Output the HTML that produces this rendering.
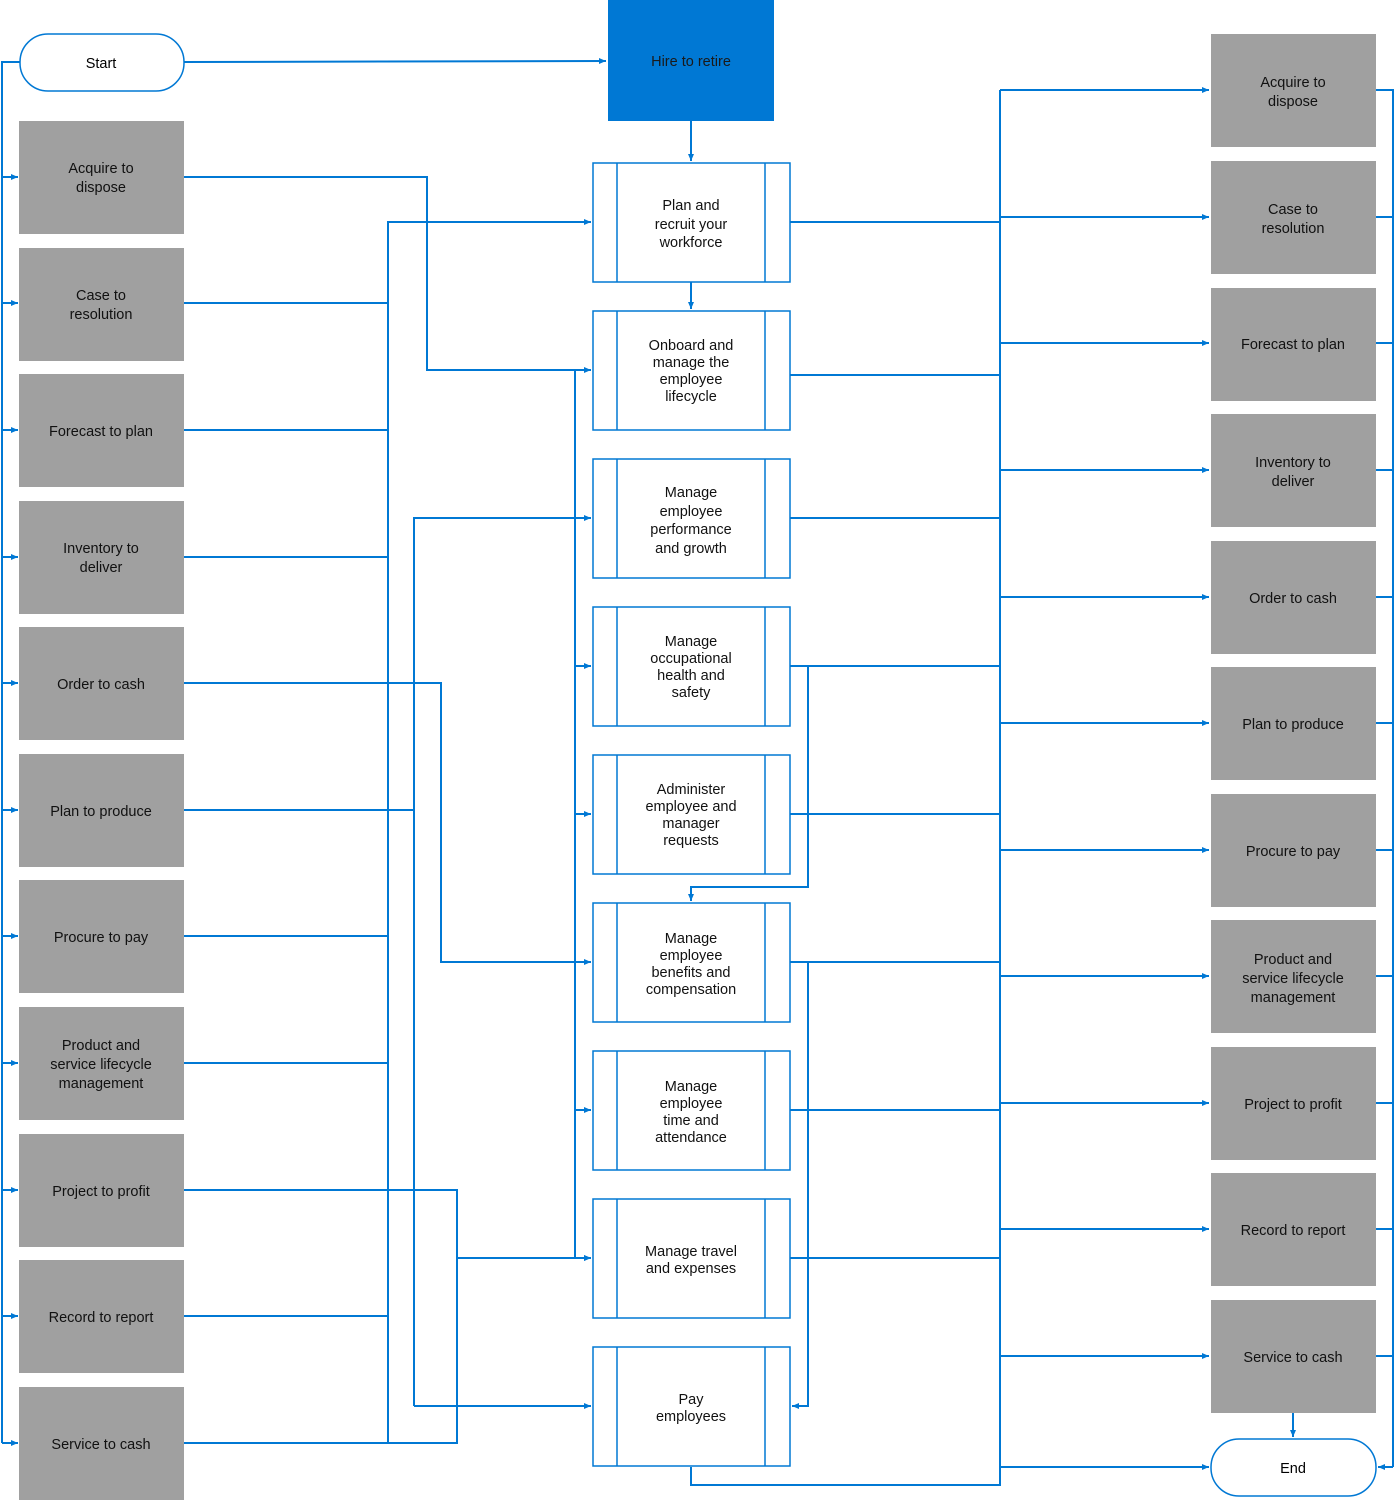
<!DOCTYPE html>
<html><head><style>body{margin:0;background:#fff}svg text{font-family:"Liberation Sans",sans-serif;font-size:14.5px;text-anchor:middle}</style></head>
<body>
<svg width="1396" height="1500" viewBox="0 0 1396 1500" xmlns="http://www.w3.org/2000/svg">
<defs><marker id="a" markerWidth="8" markerHeight="8" refX="7" refY="4" orient="auto" markerUnits="userSpaceOnUse"><path d="M0,1 L7,4 L0,7z" fill="#0078d4"/></marker></defs>
<g stroke="#0078d4" stroke-width="2" fill="none">
<path d="M20,62 H2 V1443"/>
<g marker-end="url(#a)">
<path d="M2,177H18"/><path d="M2,303H18"/><path d="M2,430H18"/><path d="M2,557H18"/><path d="M2,683H18"/><path d="M2,810H18"/><path d="M2,936H18"/><path d="M2,1063H18"/><path d="M2,1190H18"/><path d="M2,1316H18"/><path d="M2,1443H18"/>
<path d="M184,62 L606,61"/>
<path d="M691,121V161"/><path d="M691,282V309"/><path d="M1293,1413V1437"/>
<path d="M184,177H427V370H591"/>
<path d="M388,1443V222H591"/>
<path d="M184,683H441V962H591"/>
<path d="M414,1406V518H591"/>
<path d="M414,1406H591"/>
<path d="M457,1258H591"/>
<path d="M575,666H591"/><path d="M575,814H591"/><path d="M575,1110H591"/><path d="M575,1258H591"/>
<path d="M1000,90H1209"/><path d="M1000,217H1209"/><path d="M1000,343H1209"/><path d="M1000,470H1209"/><path d="M1000,597H1209"/><path d="M1000,723H1209"/><path d="M1000,850H1209"/><path d="M1000,976H1209"/><path d="M1000,1103H1209"/><path d="M1000,1229H1209"/><path d="M1000,1356H1209"/><path d="M1000,1467H1209"/>
<path d="M808,666V887H691V901"/>
<path d="M808,962V1406H792"/>
<path d="M1393,1467H1378"/>
</g>
<path d="M184,303H388M184,430H388M184,557H388M184,936H388M184,1063H388M184,1316H388"/>
<path d="M184,810H414"/>
<path d="M184,1190H457V1443H184"/>
<path d="M575,370V1258"/>
<path d="M790,222H1000M790,375H1000M790,518H1000M790,666H1000M790,814H1000M790,962H1000M790,1110H1000M790,1258H1000"/>
<path d="M1000,90V1485H691V1467"/>
<path d="M1376,90H1393V1467M1376,217H1393M1376,343H1393M1376,470H1393M1376,597H1393M1376,723H1393M1376,850H1393M1376,976H1393M1376,1103H1393M1376,1229H1393M1376,1356H1393"/>
</g>
<rect x="20" y="34" width="164" height="57" rx="28" fill="#fff" stroke="#0078d4" stroke-width="1.5"/>
<text x="101" y="68">Start</text>
<rect x="1211" y="1439" width="165" height="57" rx="28" fill="#fff" stroke="#0078d4" stroke-width="1.5"/>
<text x="1293" y="1473">End</text>
<rect x="608" y="0" width="166" height="121" fill="#0078d4"/>
<text x="691" y="66" fill="#1a1a1a">Hire to retire</text>
<g fill="#a0a0a0">
<rect x="19" y="121" width="165" height="113"/><rect x="19" y="248" width="165" height="113"/><rect x="19" y="374" width="165" height="113"/><rect x="19" y="501" width="165" height="113"/><rect x="19" y="627" width="165" height="113"/><rect x="19" y="754" width="165" height="113"/><rect x="19" y="880" width="165" height="113"/><rect x="19" y="1007" width="165" height="113"/><rect x="19" y="1134" width="165" height="113"/><rect x="19" y="1260" width="165" height="113"/><rect x="19" y="1387" width="165" height="113"/>
<rect x="1211" y="34" width="165" height="113"/><rect x="1211" y="161" width="165" height="113"/><rect x="1211" y="288" width="165" height="113"/><rect x="1211" y="414" width="165" height="113"/><rect x="1211" y="541" width="165" height="113"/><rect x="1211" y="667" width="165" height="113"/><rect x="1211" y="794" width="165" height="113"/><rect x="1211" y="920" width="165" height="113"/><rect x="1211" y="1047" width="165" height="113"/><rect x="1211" y="1173" width="165" height="113"/><rect x="1211" y="1300" width="165" height="113"/>
</g>
<g fill="#111">
<text x="101" y="173">Acquire to</text><text x="101" y="192">dispose</text>
<text x="101" y="300">Case to</text><text x="101" y="319">resolution</text>
<text x="101" y="436">Forecast to plan</text>
<text x="101" y="553">Inventory to</text><text x="101" y="572">deliver</text>
<text x="101" y="689">Order to cash</text>
<text x="101" y="816">Plan to produce</text>
<text x="101" y="942">Procure to pay</text>
<text x="101" y="1050">Product and</text><text x="101" y="1069">service lifecycle</text><text x="101" y="1088">management</text>
<text x="101" y="1196">Project to profit</text>
<text x="101" y="1322">Record to report</text>
<text x="101" y="1449">Service to cash</text>
<text x="1293" y="87">Acquire to</text><text x="1293" y="106">dispose</text>
<text x="1293" y="214">Case to</text><text x="1293" y="233">resolution</text>
<text x="1293" y="349">Forecast to plan</text>
<text x="1293" y="467">Inventory to</text><text x="1293" y="486">deliver</text>
<text x="1293" y="603">Order to cash</text>
<text x="1293" y="729">Plan to produce</text>
<text x="1293" y="856">Procure to pay</text>
<text x="1293" y="964">Product and</text><text x="1293" y="983">service lifecycle</text><text x="1293" y="1002">management</text>
<text x="1293" y="1109">Project to profit</text>
<text x="1293" y="1235">Record to report</text>
<text x="1293" y="1362">Service to cash</text>
</g>
<g fill="#fff" stroke="#0078d4" stroke-width="1.5">
<rect x="593" y="163" width="197" height="119"/><rect x="593" y="311" width="197" height="119"/><rect x="593" y="459" width="197" height="119"/><rect x="593" y="607" width="197" height="119"/><rect x="593" y="755" width="197" height="119"/><rect x="593" y="903" width="197" height="119"/><rect x="593" y="1051" width="197" height="119"/><rect x="593" y="1199" width="197" height="119"/><rect x="593" y="1347" width="197" height="119"/>
</g>
<path d="M617,163V282M765,163V282M617,311V430M765,311V430M617,459V578M765,459V578M617,607V726M765,607V726M617,755V874M765,755V874M617,903V1022M765,903V1022M617,1051V1170M765,1051V1170M617,1199V1318M765,1199V1318M617,1347V1466M765,1347V1466" stroke="#0078d4" stroke-width="1.5"/>
<g fill="#111">
<text x="691" y="210">Plan and</text><text x="691" y="229">recruit your</text><text x="691" y="247">workforce</text>
<text x="691" y="350">Onboard and</text><text x="691" y="367">manage the</text><text x="691" y="384">employee</text><text x="691" y="401">lifecycle</text>
<text x="691" y="497">Manage</text><text x="691" y="516">employee</text><text x="691" y="534">performance</text><text x="691" y="553">and growth</text>
<text x="691" y="646">Manage</text><text x="691" y="663">occupational</text><text x="691" y="680">health and</text><text x="691" y="697">safety</text>
<text x="691" y="794">Administer</text><text x="691" y="811">employee and</text><text x="691" y="828">manager</text><text x="691" y="845">requests</text>
<text x="691" y="943">Manage</text><text x="691" y="960">employee</text><text x="691" y="977">benefits and</text><text x="691" y="994">compensation</text>
<text x="691" y="1091">Manage</text><text x="691" y="1108">employee</text><text x="691" y="1125">time and</text><text x="691" y="1142">attendance</text>
<text x="691" y="1256">Manage travel</text><text x="691" y="1273">and expenses</text>
<text x="691" y="1404">Pay</text><text x="691" y="1421">employees</text>
</g>
</svg>
</body></html>
